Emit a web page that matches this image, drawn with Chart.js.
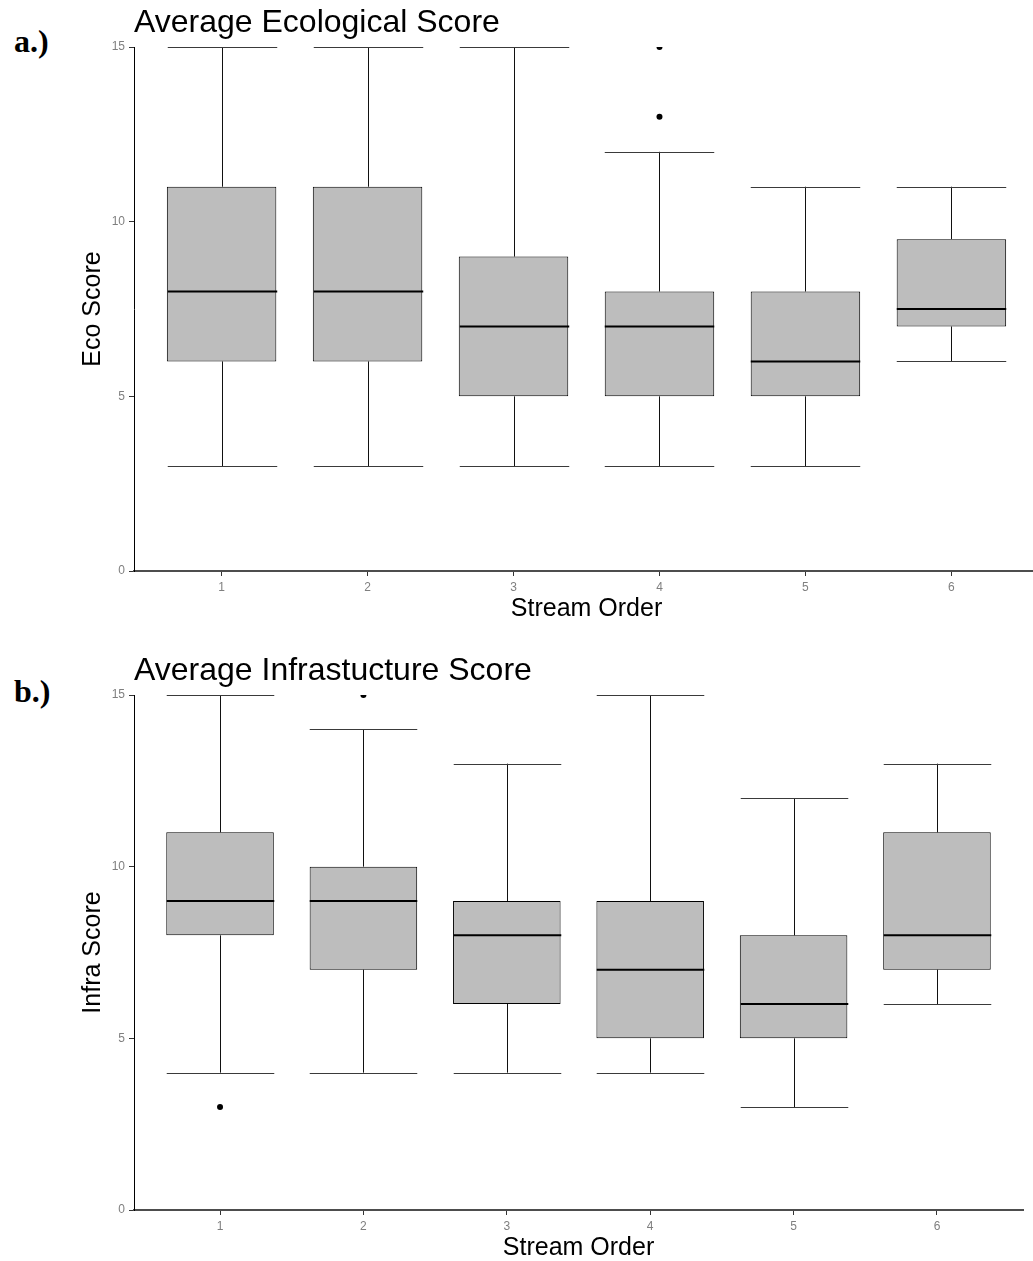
<!DOCTYPE html>
<html>
<head>
<meta charset="utf-8">
<script src="https://cdn.jsdelivr.net/npm/chart.js@4.4.1/dist/chart.umd.min.js"></script>
<style>
  html, body { margin: 0; padding: 0; background: #fff; overflow: hidden; }
  #page { position: relative; width: 1033px; height: 1261px; overflow: hidden; }
  canvas { position: absolute; left: 0; }
  .tag { position: absolute; left: 14px; font: bold 32px "Liberation Serif", "Times New Roman", serif; line-height: 32px; color: #000; }
</style>
</head>
<body>
<div id="page">
  <div class="tag" style="top:25px">a.)</div>
  <canvas id="ecoChart" width="1045" height="626" style="top:0"></canvas>
  <div class="tag" style="top:675px">b.)</div>
  <canvas id="infraChart" width="1033" height="617" style="top:648px"></canvas>
</div>
<script>
// categories
const streamOrder = [1, 2, 3, 4, 5, 6];
const yTicks = [0, 5, 10, 15];

// ecological score boxes
const ecoLow = [3, 3, 3, 3, 3, 6];
const ecoQ1 = [6, 6, 5, 5, 5, 7];
const ecoMedian = [8, 8, 7, 7, 6, 7.5];
const ecoQ3 = [11, 11, 9, 8, 8, 9.5];
const ecoHigh = [15, 15, 15, 12, 11, 11];
const ecoOutlierOrder = [4, 4];
const ecoOutlierValue = [13, 15];

// infrastructure score boxes
const infraLow = [4, 4, 4, 4, 3, 6];
const infraQ1 = [8, 7, 6, 5, 5, 7];
const infraMedian = [9, 9, 8, 7, 6, 8];
const infraQ3 = [11, 10, 9, 9, 8, 11];
const infraHigh = [15, 14, 13, 15, 12, 13];
const infraOutlierOrder = [1, 2];
const infraOutlierValue = [3, 15];

const FONT = '"Liberation Sans", Arial, sans-serif';

// whiskers, caps and medians drawn from the scales
const boxExtras = {
  id: 'boxExtras',
  afterDatasetsDraw(chart, args, opts) {
    const { ctx, scales: { x, y } } = chart;
    const bars = chart.getDatasetMeta(0).data;
    ctx.save();
    streamOrder.forEach((v, i) => {
      const cx = Math.round(x.getPixelForValue(v)) + 0.5;
      const half = bars[i].width / 2;
      const yLow = y.getPixelForValue(opts.low[i]);
      const yQ1 = y.getPixelForValue(opts.q1[i]);
      const yQ3 = y.getPixelForValue(opts.q3[i]);
      const yHigh = y.getPixelForValue(opts.high[i]);
      const yMed = y.getPixelForValue(opts.median[i]);
      ctx.strokeStyle = '#111';
      ctx.lineWidth = 1;
      ctx.beginPath();
      ctx.moveTo(cx, yHigh); ctx.lineTo(cx, yQ3);
      ctx.moveTo(cx, yQ1); ctx.lineTo(cx, yLow);
      ctx.stroke();
      ctx.strokeStyle = '#3a3a3a';
      ctx.beginPath();
      ctx.moveTo(cx - half, Math.round(yHigh) + 0.5); ctx.lineTo(cx + half, Math.round(yHigh) + 0.5);
      ctx.moveTo(cx - half, Math.round(yLow) + 0.5); ctx.lineTo(cx + half, Math.round(yLow) + 0.5);
      ctx.stroke();
      ctx.strokeStyle = '#000';
      ctx.lineWidth = 2;
      ctx.beginPath();
      ctx.moveTo(cx - half, yMed); ctx.lineTo(cx + half, yMed);
      ctx.stroke();
    });
    ctx.restore();
  }
};

function makeBoxChart(id, opt) {
  const el = document.getElementById(id);
  return new Chart(el.getContext('2d'), {
    type: 'bar',
    data: {
      datasets: [
        {
          label: 'box',
          data: streamOrder.map((v, i) => ({ x: v, y: [opt.q1[i], opt.q3[i]] })),
          backgroundColor: '#bdbdbd',
          borderColor: '#000',
          borderWidth: 1,
          borderSkipped: false,
          categoryPercentage: 1,
          barPercentage: 0.75
        },
        {
          type: 'scatter',
          label: 'outliers',
          data: opt.outX.map((v, i) => ({ x: v, y: opt.outY[i] })),
          backgroundColor: '#000',
          borderWidth: 0,
          pointRadius: 3
        }
      ]
    },
    options: {
      responsive: false,
      animation: false,
      devicePixelRatio: 1,
      layout: { padding: { left: 0, right: opt.padRight, top: 0, bottom: 0 } },
      plugins: {
        legend: { display: false },
        tooltip: { enabled: false },
        title: {
          display: true,
          text: opt.title,
          align: 'start',
          fullSize: false,
          color: '#000',
          font: { family: FONT, size: 32, weight: 'normal' },
          padding: { top: 4, bottom: 4.6 }
        },
        boxExtras: opt
      },
      scales: {
        x: {
          type: 'linear',
          min: 0.4,
          max: 6.6,
          offset: false,
          afterBuildTicks: (s) => { s.ticks = streamOrder.map(v => ({ value: v })); },
          afterFit: (s) => { s.height = 55; },
          grid: { offset: false, drawOnChartArea: false, tickLength: 5, tickColor: '#333' },
          border: { color: '#4d4d4d', width: 2 },
          ticks: { color: '#7f7f7f', padding: 4, font: { family: FONT, size: 12 } },
          title: { display: true, text: 'Stream Order', color: '#000', padding: { top: 0, bottom: 2 }, font: { family: FONT, size: 25 } }
        },
        y: {
          min: 0,
          max: 15,
          afterBuildTicks: (s) => { s.ticks = yTicks.map(v => ({ value: v })); },
          afterFit: (s) => { s.width = 134; },
          grid: { drawOnChartArea: false, tickLength: 5, tickColor: '#333' },
          border: { color: '#000', width: 1 },
          ticks: { color: '#7f7f7f', padding: 4, font: { family: FONT, size: 12 } },
          title: { display: true, text: opt.yTitle, color: '#000', padding: { top: 78, bottom: 0 }, font: { family: FONT, size: 25 } }
        }
      }
    },
    plugins: [boxExtras]
  });
}

makeBoxChart('ecoChart', {
  title: 'Average Ecological Score',
  yTitle: 'Eco Score',
  low: ecoLow, q1: ecoQ1, median: ecoMedian, q3: ecoQ3, high: ecoHigh,
  outX: ecoOutlierOrder, outY: ecoOutlierValue,
  padRight: 6
});

makeBoxChart('infraChart', {
  title: 'Average Infrastucture Score',
  yTitle: 'Infra Score',
  low: infraLow, q1: infraQ1, median: infraMedian, q3: infraQ3, high: infraHigh,
  outX: infraOutlierOrder, outY: infraOutlierValue,
  padRight: 10
});
</script>
</body>
</html>
